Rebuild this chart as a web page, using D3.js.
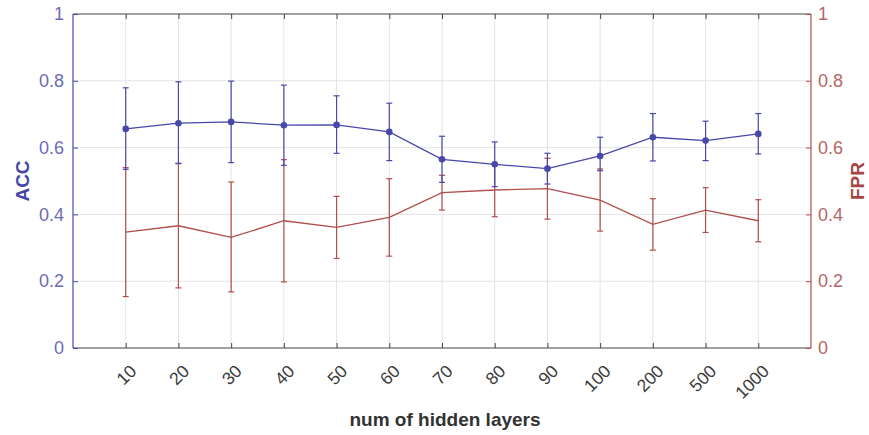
<!DOCTYPE html>
<html>
<head>
<meta charset="utf-8">
<script src="https://cdn.jsdelivr.net/npm/d3@7"></script>
<style>
  html, body { margin: 0; padding: 0; background: #fff; }
  svg { display: block; font-family: "Liberation Sans", Arial, Helvetica, sans-serif; }
</style>
</head>
<body>
<svg id="chart" width="869" height="435"></svg>
<script>
// Hidden-layer settings on the x axis
const layers = ["10", "20", "30", "40", "50", "60", "70", "80", "90", "100", "200", "500", "1000"];

// Accuracy: mean with lower / upper error bounds
const accMean  = [0.656, 0.673, 0.677, 0.667, 0.668, 0.647, 0.565, 0.550, 0.537, 0.575, 0.631, 0.621, 0.641];
const accLower = [0.535, 0.553, 0.555, 0.547, 0.583, 0.561, 0.496, 0.483, 0.491, 0.531, 0.560, 0.561, 0.581];
const accUpper = [0.779, 0.797, 0.799, 0.787, 0.755, 0.733, 0.634, 0.617, 0.583, 0.631, 0.702, 0.679, 0.702];

// False positive rate: mean with lower / upper error bounds
const fprMean  = [0.347, 0.366, 0.331, 0.381, 0.361, 0.391, 0.465, 0.473, 0.477, 0.443, 0.370, 0.413, 0.381];
const fprLower = [0.154, 0.180, 0.168, 0.198, 0.268, 0.275, 0.413, 0.393, 0.386, 0.350, 0.293, 0.346, 0.318];
const fprUpper = [0.540, 0.552, 0.497, 0.564, 0.454, 0.507, 0.517, 0.553, 0.568, 0.536, 0.447, 0.480, 0.444];

const yTicks = [0, 0.2, 0.4, 0.6, 0.8, 1];
const yTickLabels = ["0", "0.2", "0.4", "0.6", "0.8", "1"];

const blue = "#4848aa";
const red = "#b04e4e";
const blueText = "#6c6cb6";
const redText = "#b46666";

const svg = d3.select("#chart");
const plotL = 73, plotR = 811, plotT = 14, plotB = 348;

const x = d3.scalePoint().domain(layers).range([plotL, plotR]).padding(1);
const yL = d3.scaleLinear().domain([0, 1]).range([plotB, plotT]);
const yR = d3.scaleLinear().domain([0, 1]).range([plotB, plotT]);

// Grid
const grid = svg.append("g").attr("stroke", "#e4e4e4").attr("stroke-width", 1);
grid.selectAll("line.gx").data(layers).join("line")
  .attr("x1", d => x(d)).attr("x2", d => x(d))
  .attr("y1", plotT).attr("y2", plotB);
grid.selectAll("line.gy").data(yTicks.slice(1, -1)).join("line")
  .attr("x1", plotL).attr("x2", plotR)
  .attr("y1", d => yL(d)).attr("y2", d => yL(d));

// Draws one series: line, error bars and optional markers
function series(mean, lo, hi, y, color, markers) {
  const g = svg.append("g");
  const line = d3.line().x((d, i) => x(layers[i])).y(d => y(d));
  g.append("path").datum(mean).attr("d", line)
    .attr("fill", "none").attr("stroke", color).attr("stroke-width", 1.3);
  const eb = g.selectAll("g.eb").data(layers).join("g").attr("stroke", color).attr("stroke-width", 1.2);
  eb.append("line")
    .attr("x1", d => x(d)).attr("x2", d => x(d))
    .attr("y1", (d, i) => y(lo[i])).attr("y2", (d, i) => y(hi[i]));
  eb.append("line")
    .attr("x1", d => x(d) - 3).attr("x2", d => x(d) + 3)
    .attr("y1", (d, i) => y(lo[i])).attr("y2", (d, i) => y(lo[i]));
  eb.append("line")
    .attr("x1", d => x(d) - 3).attr("x2", d => x(d) + 3)
    .attr("y1", (d, i) => y(hi[i])).attr("y2", (d, i) => y(hi[i]));
  if (markers) {
    g.selectAll("circle").data(mean).join("circle")
      .attr("cx", (d, i) => x(layers[i])).attr("cy", d => y(d))
      .attr("r", 3.3).attr("fill", color);
  }
}

series(fprMean, fprLower, fprUpper, yR, red, false);
series(accMean, accLower, accUpper, yL, blue, true);

// Bottom axis with inward ticks and rotated labels
const xAxisB = d3.axisBottom(x).tickSize(-5).tickSizeOuter(0).tickPadding(0);
const gxB = svg.append("g").attr("transform", `translate(0,${plotB})`).call(xAxisB);
gxB.select(".domain").attr("stroke", "#444").attr("stroke-width", 1.2).attr("d", `M${plotL},0H${plotR}`);
gxB.selectAll(".tick line").attr("stroke", "#444");
gxB.selectAll(".tick text")
  .attr("fill", "#3a3a3a").attr("font-size", 17.5)
  .attr("text-anchor", "end")
  .attr("dy", "0.35em")
  .attr("transform", "translate(7,20) rotate(-45)")
  .attr("x", 0).attr("y", 0);

// Top edge with inward ticks
const xAxisT = d3.axisTop(x).tickSize(-5).tickSizeOuter(0).tickFormat("");
const gxT = svg.append("g").attr("transform", `translate(0,${plotT})`).call(xAxisT);
gxT.select(".domain").attr("stroke", "#444").attr("stroke-width", 1.2).attr("d", `M${plotL},0H${plotR}`);
gxT.selectAll(".tick line").attr("stroke", "#444");

// Left axis (ACC)
const axL = d3.axisLeft(yL).tickValues(yTicks).tickFormat((d, i) => yTickLabels[i]).tickSize(-5).tickSizeOuter(0).tickPadding(9);
const gL = svg.append("g").attr("transform", `translate(${plotL},0)`).call(axL);
gL.select(".domain").attr("stroke", blue).attr("stroke-width", 1.2).attr("d", `M0,${plotT}V${plotB}`);
gL.selectAll(".tick line").attr("stroke", blue);
gL.selectAll(".tick text").attr("fill", blueText).attr("font-size", 18);

// Right axis (FPR)
const axR = d3.axisRight(yR).tickValues(yTicks).tickFormat((d, i) => yTickLabels[i]).tickSize(-5).tickSizeOuter(0).tickPadding(7);
const gR = svg.append("g").attr("transform", `translate(${plotR},0)`).call(axR);
gR.select(".domain").attr("stroke", red).attr("stroke-width", 1.2).attr("d", `M0,${plotT}V${plotB}`);
gR.selectAll(".tick line").attr("stroke", red);
gR.selectAll(".tick text").attr("fill", redText).attr("font-size", 18);

// Axis titles
svg.append("text")
  .attr("transform", `translate(29,${(plotT + plotB) / 2}) rotate(-90)`)
  .attr("text-anchor", "middle").attr("font-weight", "bold").attr("font-size", 19)
  .attr("fill", "#4646a8").text("ACC");
svg.append("text")
  .attr("transform", `translate(864,${(plotT + plotB) / 2}) rotate(-90)`)
  .attr("text-anchor", "middle").attr("font-weight", "bold").attr("font-size", 19)
  .attr("fill", "#a84646").text("FPR");
svg.append("text")
  .attr("x", 445).attr("y", 426)
  .attr("text-anchor", "middle").attr("font-weight", "bold").attr("font-size", 19)
  .attr("fill", "#333").text("num of hidden layers");
</script>
</body>
</html>
